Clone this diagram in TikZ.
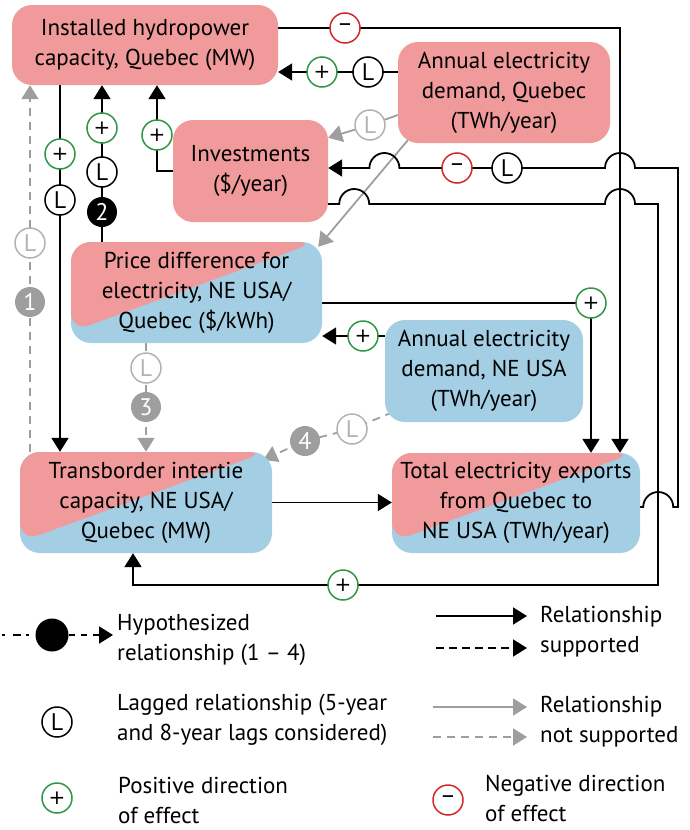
\documentclass[tikz,border=0pt]{standalone}
\usepackage{fontspec}
\setmainfont{PT Sans}
\newfontfamily\symfont{DejaVu Sans}
\usetikzlibrary{arrows.meta}
\definecolor{pk}{RGB}{241,154,155}
\definecolor{bl}{RGB}{163,206,228}
\definecolor{gr}{RGB}{46,150,72}
\definecolor{rd}{RGB}{210,40,40}
\definecolor{gy}{RGB}{158,158,158}
\definecolor{gyl}{RGB}{178,178,178}
\pgfdeclarelayer{bg}
\pgfsetlayers{bg,main}
\newcommand{\plussym}{{\symfont\fontsize{20}{20}\selectfont +}}
\begin{document}
\begin{tikzpicture}[x=1pt,y=-1pt,
 font=\fontsize{23}{30}\selectfont,
 >={Triangle[length=14pt,width=17pt]},
 boxc/.style={rounded corners=20pt, align=center, inner sep=0pt, fill=pk},
 splitc/.style={boxc, fill=bl, path picture={\fill[pk] ([yshift=11pt]path picture bounding box.south west) -- ([xshift=-6pt]path picture bounding box.north east) -- (path picture bounding box.north west) -- cycle;}},
 symc/.style={circle, line width=1.5pt, fill=white, minimum size=30pt, inner sep=0pt, font=\fontsize{24}{24}\selectfont},
 posc/.style={symc, draw=gr},
 negc/.style={symc, draw=rd},
 lagc/.style={symc, draw=black},
 glagc/.style={symc, draw=gyl, text=gyl},
 gnumc/.style={symc, fill=gy, text=white},
 bnumc/.style={symc, fill=black, text=white},
 ln/.style={line width=1.8pt, line join=miter},
 gln/.style={line width=1.8pt, draw=gy, line join=miter},
 gdash/.style={gln, dash pattern=on 8pt off 6pt},
 legtext/.style={anchor=west, align=left, inner sep=0pt},
]
\useasboundingbox (0,0) rectangle (690,830);

% boxes
\node[boxc, minimum width=266pt, minimum height=80pt] (H) at (145,45) {Installed hydropower\\capacity, Quebec (MW)};
\node[boxc, minimum width=212pt, minimum height=101pt] (DQ) at (504,92.5) {Annual electricity\\demand, Quebec\\(TWh/year)};
\node[boxc, minimum width=155pt, minimum height=102pt] (I) at (250.5,171) {Investments\\(\$/year)};
\node[splitc, minimum width=251pt, minimum height=101pt] (P) at (196.5,292.5) {Price difference for\\electricity, NE USA/\\Quebec (\$/kWh)};
\node[boxc, fill=bl, minimum width=198pt, minimum height=102pt] (DN) at (484,371) {Annual electricity\\demand, NE USA\\(TWh/year)};
\node[splitc, minimum width=252pt, minimum height=101pt] (T) at (146,502.5) {Transborder intertie\\capacity, NE USA/\\Quebec (MW)};
\node[splitc, minimum width=248pt, minimum height=100pt] (E) at (516,503) {Total electricity exports\\from Quebec to\\NE USA (TWh/year)};

% symbols on connectors
\node[negc] (cHE) at (345,28) {–};
\node[lagc] (cDQL) at (368,72) {L};
\node[posc] (cDQp) at (322,72) {\plussym};
\node[glagc] (cDIL) at (370,125) {L};
\node[negc] (cEIm) at (457,168) {–};
\node[lagc] (cEIL) at (507,168) {L};
\node[posc] (cHTp) at (60,154) {\plussym};
\node[lagc] (cHTL) at (60,200) {L};
\node[posc] (c2p) at (102,128) {\plussym};
\node[lagc] (c2L) at (102,172) {L};
\node[bnumc] (n2) at (102,212) {2};
\node[glagc] (c1L) at (30,243) {L};
\node[gnumc] (n1) at (30,302) {1};
\node[posc] (cIHp) at (157,135) {\plussym};
\node[glagc] (c3L) at (146,368) {L};
\node[gnumc] (n3) at (146,407) {3};
\node[posc] (cDNp) at (363,336) {\plussym};
\node[posc] (cPEp) at (591,303) {\plussym};
\node[glagc] (c4L) at (352,429) {L};
\node[gnumc] (n4) at (305,441) {4};
\node[posc] (cITp) at (343,585) {\plussym};

\coordinate (k1) at (620,28);
\coordinate (kEr) at (678,507);
\coordinate (kEu) at (678,168);
\coordinate (kIr) at (658,204);
\coordinate (kIb) at (658,585);

\begin{pgfonlayer}{bg}
% H -> E (negative)
\draw[ln,->] (H.east |- k1) -- (k1) -- (k1 |- E.north);
% DQ -> H
\draw[ln,->] (DQ.west |- cDQp) -- (H.east |- cDQp);
% DQ -> I (not supported)
\draw[gln,->] ([yshift=-22.5pt]DQ.west) -- (cDIL.center) -- ([yshift=-18pt]I.north east);
% DQ -> P (not supported)
\draw[gln,->] ([xshift=10pt,yshift=3pt]DQ.south west) -- ([xshift=-4pt,yshift=-5pt]P.north east);
% E -> I (negative, lagged)
\draw[ln,->] ([yshift=-4pt]E.east) -- ++(3,0) arc[start angle=180,end angle=0,radius=15pt] -- (kEr) -- (kEu)
  -- (635,168) arc[start angle=0,end angle=180,radius=15pt]
  -- (399.4,168) arc[start angle=0,end angle=180,radius=15pt]
  -- (I.east |- kEu);
% I -> T (positive)
\draw[ln,->] (I.east |- kIr) -- (339.2,204) arc[start angle=180,end angle=0,radius=15pt]
  -- (605,204) arc[start angle=180,end angle=0,radius=15pt]
  -- (kIr) -- (kIb) -- (kIb -| 133,0) -- ([xshift=-13pt]T.south);
% H -> T
\draw[ln,->] (cHTp |- H.south) -- (cHTp |- T.north);
% P -> H (hypothesis 2)
\draw[ln,->] (n2 |- P.north) -- (n2 |- H.south);
% T -> H (hypothesis 1, not supported)
\draw[gdash,->] (n1 |- T.north) -- (n1 |- H.south);
% I -> H
\draw[ln,->] (I.west) -| (cIHp |- H.south);
% P -> T (hypothesis 3)
\draw[gdash,->] (n3 |- P.south) -- (n3 |- T.north);
% DN -> P
\draw[ln,->] (DN.west |- cDNp) -- (P.east |- cDNp);
% P -> E
\draw[ln,->] (P.east |- cPEp) -- (cPEp.center) -- (cPEp |- E.north);
% DN -> T (hypothesis 4)
\draw[gdash,->] ([xshift=8pt,yshift=10pt]DN.south west) -- (c4L.center) -- (n4.center) -- ([xshift=-9pt,yshift=-8pt]T.north east);
% T -> E
\draw[ln,->] (T.east) -- (E.west |- T.east);
\end{pgfonlayer}

% legend
\node[symc, fill=black, minimum size=33pt] (lgH) at (52,635) {};
\coordinate (lgH0) at (2,635);
\coordinate (lgH1) at (113,635);
\draw[ln, dash pattern=on 3pt off 8pt on 8pt off 5pt] (lgH0) -- (lgH);
\draw[ln, dash pattern=on 6pt off 6pt,->] (lgH) -- (lgH1);
\node[legtext] (lgHt) at (117,640) {Hypothesized\\relationship (1 – 4)};
\node[lagc] (lgL) at (57,722) {L};
\node[legtext] (lgLt) at (117,720) {Lagged relationship (5-year\\and 8-year lags considered)};
\node[posc] (lgP) at (57,798) {\plussym};
\node[legtext] (lgPt) at (118,800) {Positive direction\\of effect};
\coordinate (la0) at (436,616); \coordinate (la1) at (527,616);
\coordinate (lb0) at (436,648); \coordinate (lb1) at (527,648);
\coordinate (lc0) at (433,707); \coordinate (lc1) at (527,707);
\coordinate (ld0) at (433,737); \coordinate (ld1) at (527,737);
\draw[ln,->] (la0) -- (la1);
\draw[ln,dash pattern=on 8pt off 5pt,->] (lb0) -- (lb1);
\draw[gln,->] (lc0) -- (lc1);
\draw[gdash,->] (ld0) -- (ld1);
\node[legtext] (lgS) at (540,632) {Relationship\\supported};
\node[legtext] (lgN) at (540,722) {Relationship\\not supported};
\node[negc] (lgM) at (448,800) {–};
\node[legtext] (lgMt) at (485,798) {Negative direction\\of effect};
\end{tikzpicture}
\end{document}
